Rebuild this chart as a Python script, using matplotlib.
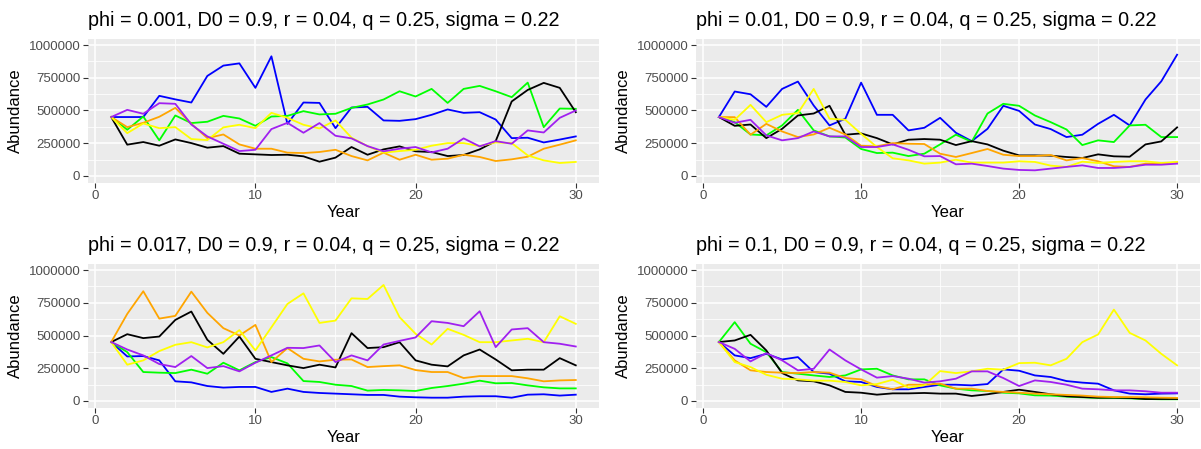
import numpy as np
import matplotlib
matplotlib.use("Agg")
import matplotlib.pyplot as plt
from matplotlib.ticker import MultipleLocator

plt.rcParams['font.family'] = ['Liberation Sans', 'DejaVu Sans']

years = np.arange(1, 31)

# abundance trajectories, one list per colour, for each phi setting
phi_001 = {
    "blue": [450, 450, 450, 612, 585, 561, 764, 843, 860, 673, 914, 398, 561, 558, 365,
             523, 528, 424, 421, 434, 467, 508, 482, 487, 431, 289, 292, 256, 278, 302],
    "#00FF00": [450, 353, 454, 272, 462, 404, 414, 459, 439, 383, 454, 459, 495, 470, 475,
                520, 546, 584, 647, 607, 665, 558, 665, 688, 647, 602, 713, 373, 515, 513],
    "black": [450, 239, 259, 231, 279, 251, 216, 228, 170, 165, 160, 162, 150, 109, 140,
              221, 162, 203, 226, 188, 183, 152, 160, 203, 266, 569, 657, 711, 673, 487],
    "orange": [450, 373, 406, 452, 520, 398, 289, 317, 241, 208, 208, 178, 175, 183, 200,
               152, 119, 178, 124, 162, 124, 132, 162, 145, 114, 127, 147, 208, 239, 272],
    "yellow": [450, 327, 401, 365, 373, 282, 274, 371, 391, 365, 482, 444, 391, 363, 424,
               292, 228, 178, 190, 200, 231, 251, 251, 228, 256, 251, 157, 119, 99, 107],
    "#A020F0": [450, 505, 475, 556, 551, 393, 302, 246, 190, 200, 358, 406, 330, 404, 307,
                287, 228, 188, 208, 221, 180, 208, 287, 226, 266, 246, 348, 332, 444, 500],
}

phi_01 = {
    "blue": [450, 645, 624, 528, 665, 721, 538, 386, 437, 713, 467, 467, 348, 368, 444,
             330, 266, 360, 536, 497, 393, 358, 297, 315, 398, 467, 386, 584, 723, 926],
    "#00FF00": [450, 411, 317, 310, 386, 505, 348, 302, 294, 206, 175, 178, 152, 170, 241,
                315, 261, 477, 551, 536, 462, 411, 355, 236, 272, 259, 386, 391, 297, 297],
    "black": [450, 383, 393, 289, 360, 462, 477, 536, 315, 325, 289, 241, 277, 282, 277,
              236, 266, 241, 193, 157, 157, 155, 145, 137, 165, 150, 147, 241, 264, 371],
    "orange": [450, 449, 315, 398, 340, 297, 317, 368, 317, 231, 226, 251, 246, 244, 170,
               145, 175, 206, 162, 152, 152, 160, 119, 137, 112, 74, 69, 94, 94, 104],
    "yellow": [450, 429, 543, 411, 467, 480, 665, 437, 429, 322, 221, 135, 119, 94, 102,
               124, 102, 102, 102, 112, 107, 79, 69, 109, 99, 107, 112, 112, 99, 107],
    "#A020F0": [450, 406, 429, 310, 272, 289, 340, 302, 302, 221, 221, 241, 200, 150, 152,
                89, 94, 76, 56, 46, 43, 56, 69, 81, 61, 61, 69, 86, 86, 94],
}

phi_017 = {
    "blue": [450, 340, 343, 310, 150, 142, 114, 102, 107, 107, 69, 94, 69, 61, 56,
             51, 46, 46, 33, 28, 25, 25, 33, 36, 36, 25, 48, 51, 41, 48],
    "#00FF00": [450, 373, 221, 216, 213, 239, 208, 292, 234, 297, 335, 287, 152, 145, 124,
                114, 79, 84, 81, 76, 99, 114, 132, 155, 135, 137, 119, 104, 96, 96],
    "black": [450, 510, 480, 492, 619, 683, 467, 360, 492, 322, 297, 272, 251, 277, 256,
              518, 404, 411, 449, 310, 277, 264, 348, 393, 317, 234, 239, 239, 327, 272],
    "orange": [450, 665, 838, 629, 650, 835, 673, 556, 500, 581, 297, 404, 322, 302, 315,
               317, 259, 266, 272, 236, 221, 221, 175, 190, 190, 190, 173, 150, 157, 160],
    "yellow": [450, 277, 310, 381, 429, 449, 409, 449, 541, 386, 563, 741, 822, 596, 614,
               784, 779, 886, 640, 513, 431, 551, 505, 449, 449, 462, 475, 449, 647, 589],
    "#A020F0": [450, 393, 348, 282, 259, 343, 251, 266, 226, 292, 348, 406, 404, 424, 297,
                348, 310, 431, 459, 485, 609, 596, 571, 685, 411, 546, 556, 449, 437, 416],
}

phi_1 = {
    "blue": [450, 348, 327, 360, 317, 335, 221, 208, 150, 145, 107, 89, 89, 107, 124,
             124, 119, 129, 241, 231, 195, 183, 152, 140, 132, 81, 56, 51, 56, 58],
    "#00FF00": [450, 602, 437, 373, 221, 208, 195, 183, 195, 241, 246, 195, 165, 165, 119,
                94, 81, 76, 63, 58, 43, 41, 33, 28, 23, 23, 20, 15, 13, 13],
    "black": [450, 462, 505, 386, 213, 157, 150, 119, 69, 63, 48, 58, 58, 61, 56,
              56, 38, 51, 69, 86, 69, 51, 36, 30, 25, 25, 23, 15, 15, 15],
    "orange": [450, 310, 234, 221, 216, 213, 221, 216, 175, 165, 114, 89, 124, 124, 132,
               94, 94, 76, 69, 63, 56, 51, 46, 41, 33, 30, 30, 28, 25, 23],
    "yellow": [450, 297, 259, 200, 170, 165, 155, 155, 145, 119, 129, 162, 102, 119, 228,
               213, 226, 246, 239, 289, 292, 272, 322, 449, 508, 698, 520, 462, 360, 272],
    "#A020F0": [450, 398, 302, 365, 310, 234, 246, 393, 310, 241, 178, 190, 170, 140, 150,
                170, 226, 226, 175, 114, 157, 145, 124, 94, 89, 81, 81, 74, 63, 63],
}

titles = [
    "phi = 0.001, D0 = 0.9, r = 0.04, q = 0.25, sigma = 0.22",
    "phi = 0.01, D0 = 0.9, r = 0.04, q = 0.25, sigma = 0.22",
    "phi = 0.017, D0 = 0.9, r = 0.04, q = 0.25, sigma = 0.22",
    "phi = 0.1, D0 = 0.9, r = 0.04, q = 0.25, sigma = 0.22",
]
runs = [phi_001, phi_01, phi_017, phi_1]

W, H = 1201, 449
fig = plt.figure(figsize=(W / 100, H / 100), dpi=100)

# panel boxes in pixels: left, right, top, bottom
boxes = [
    (88, 599, 38.5, 182.5),
    (696, 1200, 38.5, 182.5),
    (88, 599, 263.5, 407.5),
    (696, 1200, 263.5, 407.5),
]

for box, title, run in zip(boxes, titles, runs):
    l, r, t, b = box
    ax = fig.add_axes([l / W, 1 - b / H, (r - l) / W, (b - t) / H])
    ax.set_facecolor("#EBEBEB")
    for s in ax.spines.values():
        s.set_visible(False)

    for colour, vals in run.items():
        ax.plot(years, np.array(vals) * 1000, color=colour, lw=1.3, zorder=3)

    ax.set_xlim(1 - 1.45, 30 + 1.45)
    ax.set_ylim(-50000, 1050000)
    ax.xaxis.set_major_locator(MultipleLocator(10))
    ax.xaxis.set_minor_locator(MultipleLocator(5))
    ax.yaxis.set_major_locator(MultipleLocator(250000))
    ax.yaxis.set_minor_locator(MultipleLocator(125000))
    ax.yaxis.set_major_formatter(plt.FuncFormatter(lambda v, p: "%d" % v))
    ax.grid(which="major", color="white", lw=1.1, zorder=0)
    ax.grid(which="minor", color="white", lw=0.55, zorder=0)
    ax.set_axisbelow(True)
    ax.tick_params(which="major", length=3.5, width=0.8, color="#333333",
                   labelsize=9.5, labelcolor="#4D4D4D", pad=2)
    ax.tick_params(which="minor", length=0)

    ax.set_xlabel("Year", fontsize=12, labelpad=2)
    ax.set_ylabel("Abundance", fontsize=12, labelpad=4)
    ax.set_title(title, loc="left", fontsize=14.2, pad=9)

fig.savefig("out.png", dpi=100)
